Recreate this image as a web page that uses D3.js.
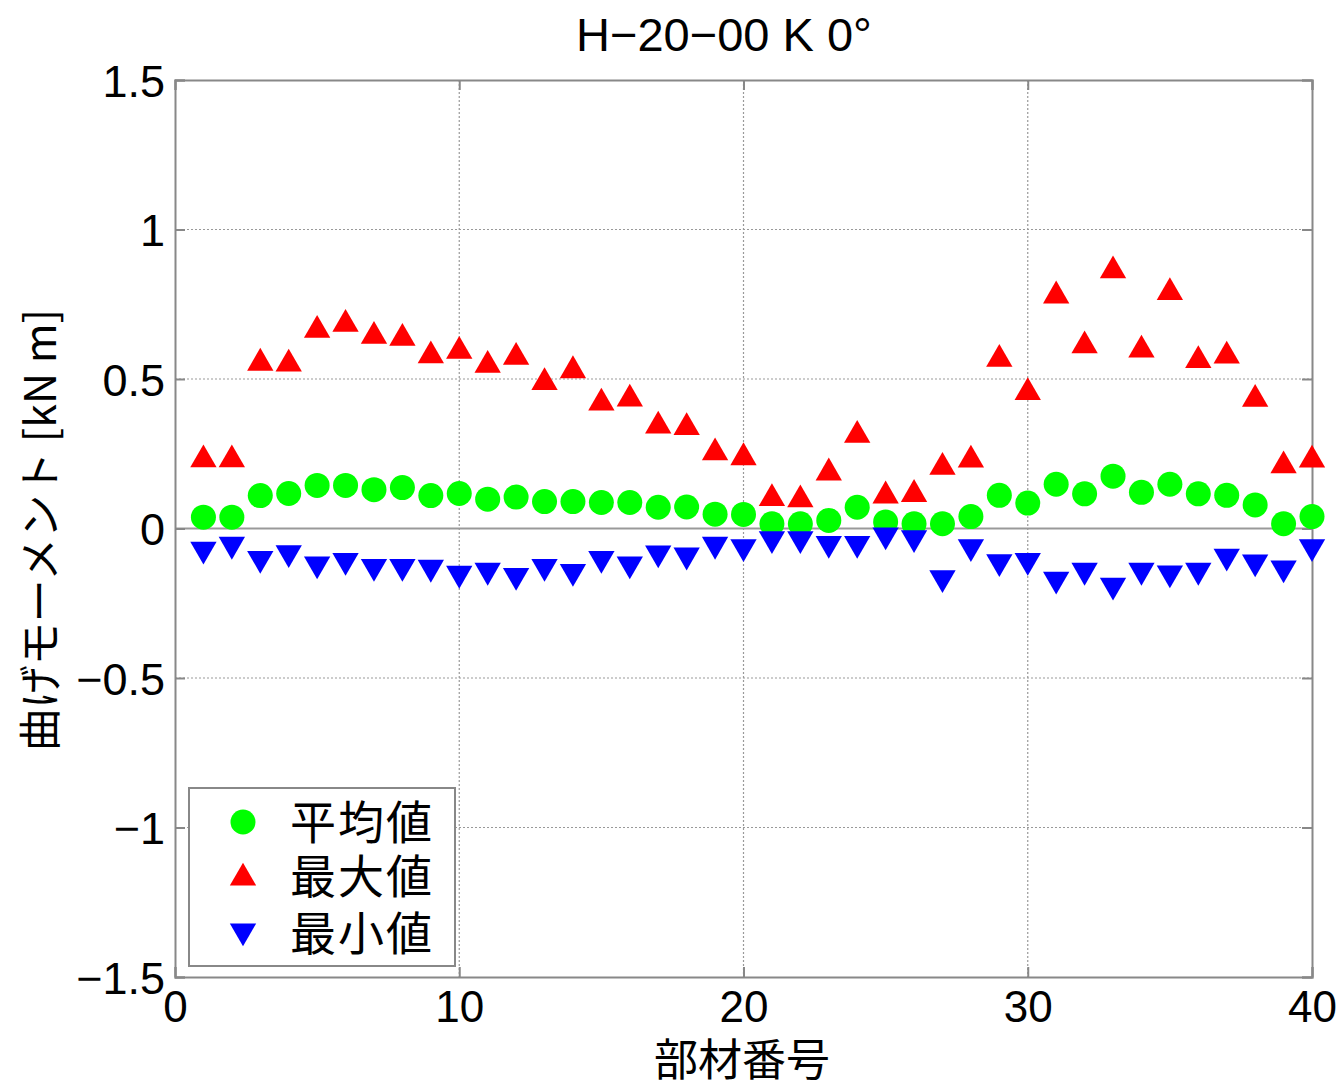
<!DOCTYPE html>
<html>
<head>
<meta charset="utf-8">
<script src="https://cdn.jsdelivr.net/npm/d3@7"></script>
<style>
  body { margin: 0; background: #fff; }
  text { font-family: "Liberation Sans", "Noto Sans CJK JP", sans-serif; fill: #000; }
  .jp { font-family: "Noto Sans CJK JP", sans-serif; }
</style>
</head>
<body>
<div id="chart"></div>
<script>
// member numbers 1..40
const members = d3.range(1, 41);

// bending moment [kN m]
const meanVals = [0.038, 0.038, 0.110, 0.117, 0.144, 0.144, 0.130, 0.137, 0.110, 0.117,
                  0.098, 0.105, 0.090, 0.090, 0.087, 0.087, 0.071, 0.072, 0.048, 0.047,
                  0.016, 0.016, 0.027, 0.071, 0.022, 0.016, 0.016, 0.040, 0.111, 0.085,
                  0.148, 0.116, 0.175, 0.121, 0.148, 0.116, 0.111, 0.079, 0.016, 0.040];
const maxVals = [0.237, 0.237, 0.560, 0.557, 0.670, 0.690, 0.650, 0.643, 0.585, 0.600,
                 0.553, 0.580, 0.495, 0.535, 0.427, 0.440, 0.350, 0.345, 0.260, 0.244,
                 0.107, 0.103, 0.193, 0.319, 0.116, 0.121, 0.212, 0.236, 0.573, 0.462,
                 0.785, 0.618, 0.869, 0.604, 0.796, 0.569, 0.584, 0.439, 0.217, 0.236];
const minVals = [-0.076, -0.060, -0.107, -0.088, -0.126, -0.114, -0.134, -0.134, -0.137, -0.157,
                 -0.147, -0.164, -0.134, -0.151, -0.107, -0.126, -0.089, -0.096, -0.060, -0.068,
                 -0.041, -0.041, -0.057, -0.057, -0.029, -0.038, -0.172, -0.068, -0.118, -0.114,
                 -0.177, -0.147, -0.197, -0.147, -0.156, -0.147, -0.100, -0.119, -0.139, -0.068];

const xTicks = [0, 10, 20, 30, 40];
const yTicks = [-1.5, -1, -0.5, 0, 0.5, 1, 1.5];
const seriesNames = ["平均値", "最大値", "最小値"];

const svgWidth = 1343;
const svgHeight = 1090;
const plot = { left: 175, right: 1312, top: 80, bottom: 977 };

const svg = d3.select("#chart")
    .append("svg")
    .attr("width", svgWidth)
    .attr("height", svgHeight);

const x = d3.scaleLinear().domain([0, 40]).range([plot.left, plot.right]);
const y = d3.scaleLinear().domain([-1.5, 1.5]).range([plot.bottom, plot.top]);

// grid lines (dotted)
svg.append("g")
    .selectAll("line.vg")
    .data(xTicks.slice(1, -1))
    .enter().append("line")
    .attr("x1", d => x(d)).attr("x2", d => x(d))
    .attr("y1", plot.top).attr("y2", plot.bottom)
    .attr("stroke", "#999").attr("stroke-width", 1.2)
    .attr("stroke-dasharray", "2,2");

svg.append("g")
    .selectAll("line.hg")
    .data(yTicks.slice(1, -1).filter(d => d !== 0))
    .enter().append("line")
    .attr("x1", plot.left).attr("x2", plot.right)
    .attr("y1", d => y(d)).attr("y2", d => y(d))
    .attr("stroke", "#999").attr("stroke-width", 1.2)
    .attr("stroke-dasharray", "2,2");

// zero line
svg.append("line")
    .attr("x1", plot.left).attr("x2", plot.right)
    .attr("y1", y(0)).attr("y2", y(0))
    .attr("stroke", "#999").attr("stroke-width", 2);

// axes with inward ticks
const xAxis = svg.append("g")
    .attr("transform", `translate(0, ${plot.bottom})`)
    .call(d3.axisBottom(x).tickValues(xTicks).tickSize(-10).tickPadding(14).tickFormat(d3.format("d")));
const xAxisTop = svg.append("g")
    .attr("transform", `translate(0, ${plot.top})`)
    .call(d3.axisTop(x).tickValues(xTicks).tickSize(-10).tickFormat(""));
const yAxis = svg.append("g")
    .attr("transform", `translate(${plot.left}, 0)`)
    .call(d3.axisLeft(y).tickValues(yTicks).tickSize(-10).tickPadding(10)
        .tickFormat(d => d < 0 ? "\u2212" + Math.abs(d) : String(d)));
const yAxisRight = svg.append("g")
    .attr("transform", `translate(${plot.right}, 0)`)
    .call(d3.axisRight(y).tickValues(yTicks).tickSize(-10).tickFormat(""));

[xAxis, xAxisTop, yAxis, yAxisRight].forEach(a => {
    a.selectAll("path").attr("stroke", "#888").attr("stroke-width", 2);
    a.selectAll("line").attr("stroke", "#888").attr("stroke-width", 2);
});
xAxis.selectAll("text").attr("font-size", 44).attr("fill", "#000");
yAxis.selectAll("text").attr("font-size", 45).attr("fill", "#000").attr("dy", "0.36em");

// markers
const tri = d3.symbol().type(d3.symbolTriangle).size(300);

svg.append("g").selectAll("circle")
    .data(members)
    .enter().append("circle")
    .attr("cx", d => x(d))
    .attr("cy", (d, i) => y(meanVals[i]))
    .attr("r", 12.5)
    .attr("fill", "#00ff00");

svg.append("g").selectAll("path.max")
    .data(members)
    .enter().append("path")
    .attr("d", tri)
    .attr("transform", (d, i) => `translate(${x(d)}, ${y(maxVals[i]) + 2})`)
    .attr("fill", "#ff0000");

svg.append("g").selectAll("path.min")
    .data(members)
    .enter().append("path")
    .attr("d", tri)
    .attr("transform", (d, i) => `translate(${x(d)}, ${y(minVals[i]) - 2}) rotate(180)`)
    .attr("fill", "#0000ff");

// title and axis labels
svg.append("text")
    .attr("x", 724).attr("y", 51)
    .attr("text-anchor", "middle")
    .attr("font-size", 47)
    .text("H\u221220\u221200 K 0\u00b0");

svg.append("text")
    .attr("class", "jp")
    .attr("x", 742).attr("y", 1076)
    .attr("text-anchor", "middle")
    .attr("font-size", 44)
    .text("部材番号");

svg.append("text")
    .attr("class", "jp")
    .attr("transform", "translate(56, 530) rotate(-90)")
    .attr("text-anchor", "middle")
    .attr("font-size", 43)
    .text("曲げモーメント [kN m]");

// legend
const legend = svg.append("g");
legend.append("rect")
    .attr("x", 189).attr("y", 788)
    .attr("width", 266).attr("height", 178)
    .attr("fill", "#fff")
    .attr("stroke", "#888").attr("stroke-width", 2);

const rows = [822, 876, 933];
legend.append("circle")
    .attr("cx", 243).attr("cy", rows[0]).attr("r", 12.5).attr("fill", "#00ff00");
legend.append("path")
    .attr("d", tri)
    .attr("transform", `translate(243, ${rows[1] + 2})`)
    .attr("fill", "#ff0000");
legend.append("path")
    .attr("d", tri)
    .attr("transform", `translate(243, ${rows[2] - 2}) rotate(180)`)
    .attr("fill", "#0000ff");

legend.selectAll("text")
    .data(seriesNames)
    .enter().append("text")
    .attr("class", "jp")
    .attr("x", 290)
    .attr("y", (d, i) => rows[i])
    .attr("dy", "0.36em")
    .attr("font-size", 46)
    .attr("letter-spacing", 2)
    .text(d => d);
</script>
</body>
</html>
